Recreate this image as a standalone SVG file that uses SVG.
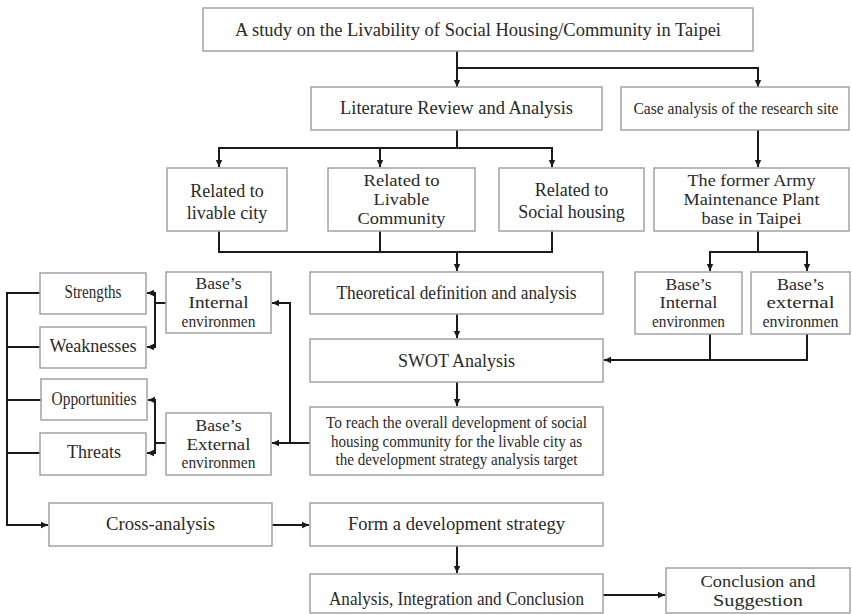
<svg xmlns="http://www.w3.org/2000/svg" width="852" height="614" viewBox="0 0 852 614">
<style>
.box{fill:#fff;stroke:#a3a3a3;stroke-width:1.5}
.t{font-family:"Liberation Serif","Times New Roman",serif;font-size:18px;fill:#2a2a2a;text-anchor:middle}
.t.s{font-size:17px}
.c{fill:none;stroke:#1a1a1a;stroke-width:2}
.a{marker-end:url(#ah)}
</style>
<defs>
<marker id="ah" markerUnits="userSpaceOnUse" markerWidth="8" markerHeight="8" refX="7" refY="4" orient="auto">
<path d="M0,0.8 L7,4 L0,7.2 Z" fill="#1a1a1a"/>
</marker>
</defs>
<rect width="852" height="614" fill="#fff"/>
<g id="connectors">
<path class="c a" d="M457,51 V87"/>
<path class="c a" d="M457,68 H758 V87"/>
<path class="c" d="M457,130 V148"/>
<path class="c a" d="M457,148 H219 V167"/>
<path class="c a" d="M457,148 H552 V167"/>
<path class="c a" d="M380,148 V167"/>
<path class="c a" d="M758,130 V167"/>
<path class="c" d="M219,231 V252 H552 V231"/>
<path class="c" d="M380,231 V252"/>
<path class="c a" d="M457,252 V271"/>
<path class="c" d="M758,231 V252"/>
<path class="c a" d="M758,252 H710 V271"/>
<path class="c a" d="M758,252 H807 V271"/>
<path class="c a" d="M457,314 V338"/>
<path class="c" d="M710,334 V360"/>
<path class="c a" d="M807,334 V360 H604"/>
<path class="c a" d="M457,382 V406"/>
<path class="c a" d="M310,443 H290 V303 H272"/>
<path class="c a" d="M290,443 H272"/>
<path class="c" d="M166,303 H155"/>
<path class="c a" d="M155,303 V293 H147"/>
<path class="c a" d="M155,303 V347 H147"/>
<path class="c" d="M166,443 H155"/>
<path class="c a" d="M155,443 V400 H148"/>
<path class="c a" d="M155,443 V453 H147"/>
<path class="c a" d="M40,293 H7 V525 H48"/>
<path class="c" d="M40,347 H7"/>
<path class="c" d="M41,400 H7"/>
<path class="c" d="M40,453 H7"/>
<path class="c a" d="M272,525 H309"/>
<path class="c a" d="M457,546 V573"/>
<path class="c a" d="M603,595 H665"/>
</g>
<g id="n-top"><rect class="box" x="203" y="8" width="550" height="43"/><text class="t" x="478" y="36" textLength="486" lengthAdjust="spacingAndGlyphs">A study on the Livability of Social Housing/Community in Taipei</text></g>
<g id="n-lit"><rect class="box" x="311" y="87" width="291" height="43"/><text class="t" x="456.5" y="114" textLength="233" lengthAdjust="spacingAndGlyphs">Literature Review and Analysis</text></g>
<g id="n-case"><rect class="box" x="621" y="87" width="228" height="43"/><text class="t" x="736" y="114" style="font-size:16px" textLength="205" lengthAdjust="spacingAndGlyphs">Case analysis of the research site</text></g>
<g id="n-city"><rect class="box" x="167" y="168" width="120" height="63"/><text class="t" x="227" y="197">Related to</text><text class="t" x="227" y="219">livable city</text></g>
<g id="n-comm"><rect class="box" x="328" y="168" width="147" height="63"/><text class="t s" x="401.5" y="186.2" textLength="76" lengthAdjust="spacingAndGlyphs">Related to</text><text class="t s" x="401.5" y="205" textLength="56" lengthAdjust="spacingAndGlyphs">Livable</text><text class="t s" x="401.5" y="223.8" textLength="88" lengthAdjust="spacingAndGlyphs">Community</text></g>
<g id="n-social"><rect class="box" x="499" y="168" width="145" height="63"/><text class="t" x="571.5" y="196">Related to</text><text class="t" x="571.5" y="218">Social housing</text></g>
<g id="n-former"><rect class="box" x="654" y="168" width="195" height="63"/><text class="t s" x="751.5" y="186.2" textLength="128" lengthAdjust="spacingAndGlyphs">The former Army</text><text class="t s" x="751.5" y="205" textLength="136" lengthAdjust="spacingAndGlyphs">Maintenance Plant</text><text class="t s" x="751.5" y="223.8" textLength="100" lengthAdjust="spacingAndGlyphs">base in Taipei</text></g>
<g id="n-strengths"><rect class="box" x="40" y="273" width="106" height="41"/><text class="t" x="93" y="298" textLength="57" lengthAdjust="spacingAndGlyphs">Strengths</text></g>
<g id="n-baseintL"><rect class="box" x="166" y="272" width="105" height="61"/><text class="t s" x="218.5" y="289.2" textLength="46" lengthAdjust="spacingAndGlyphs">Base’s</text><text class="t s" x="218.5" y="308" textLength="60" lengthAdjust="spacingAndGlyphs">Internal</text><text class="t s" x="218.5" y="326.8" textLength="74" lengthAdjust="spacingAndGlyphs">environmen</text></g>
<g id="n-theory"><rect class="box" x="310" y="272" width="293" height="42"/><text class="t" x="456.5" y="299" textLength="240" lengthAdjust="spacingAndGlyphs">Theoretical definition and analysis</text></g>
<g id="n-baseintR"><rect class="box" x="635" y="272" width="107" height="62"/><text class="t s" x="688.5" y="289.5" textLength="46" lengthAdjust="spacingAndGlyphs">Base’s</text><text class="t s" x="688.5" y="308.3" textLength="58" lengthAdjust="spacingAndGlyphs">Internal</text><text class="t s" x="688.5" y="327.1" textLength="73" lengthAdjust="spacingAndGlyphs">environmen</text></g>
<g id="n-baseextR"><rect class="box" x="751" y="272" width="99" height="62"/><text class="t s" x="800.5" y="289.5" textLength="47" lengthAdjust="spacingAndGlyphs">Base’s</text><text class="t s" x="800.5" y="308.3" textLength="68" lengthAdjust="spacingAndGlyphs">external</text><text class="t s" x="800.5" y="327.1" textLength="76" lengthAdjust="spacingAndGlyphs">environmen</text></g>
<g id="n-weak"><rect class="box" x="40" y="327" width="106" height="41"/><text class="t" x="93" y="352" textLength="87" lengthAdjust="spacingAndGlyphs">Weaknesses</text></g>
<g id="n-swot"><rect class="box" x="310" y="339" width="293" height="43"/><text class="t" x="456.5" y="367">SWOT Analysis</text></g>
<g id="n-opp"><rect class="box" x="41" y="379" width="106" height="41"/><text class="t" x="94" y="405" textLength="85" lengthAdjust="spacingAndGlyphs">Opportunities</text></g>
<g id="n-baseextL"><rect class="box" x="166" y="413" width="105" height="62"/><text class="t s" x="218.5" y="430.7" textLength="46" lengthAdjust="spacingAndGlyphs">Base’s</text><text class="t s" x="218.5" y="449.5" textLength="64" lengthAdjust="spacingAndGlyphs">External</text><text class="t s" x="218.5" y="468.3" textLength="74" lengthAdjust="spacingAndGlyphs">environmen</text></g>
<g id="n-target"><rect class="box" x="310" y="407" width="293" height="68"/><text class="t s" x="456.5" y="427.7" textLength="261" lengthAdjust="spacingAndGlyphs">To reach the overall development of social</text><text class="t s" x="456.5" y="446.5" textLength="251" lengthAdjust="spacingAndGlyphs">housing community for the livable city as</text><text class="t s" x="456.5" y="465.3" textLength="242" lengthAdjust="spacingAndGlyphs">the development strategy analysis target</text></g>
<g id="n-threats"><rect class="box" x="40" y="433" width="106" height="42"/><text class="t" x="94" y="458" textLength="54" lengthAdjust="spacingAndGlyphs">Threats</text></g>
<g id="n-cross"><rect class="box" x="49" y="503" width="223" height="43"/><text class="t" x="160.5" y="530" textLength="109" lengthAdjust="spacingAndGlyphs">Cross-analysis</text></g>
<g id="n-form"><rect class="box" x="310" y="503" width="293" height="43"/><text class="t" x="456.5" y="530" textLength="217" lengthAdjust="spacingAndGlyphs">Form a development strategy</text></g>
<g id="n-analysis"><rect class="box" x="310" y="574" width="293" height="39"/><text class="t" x="456.5" y="605" textLength="255" lengthAdjust="spacingAndGlyphs">Analysis, Integration and Conclusion</text></g>
<g id="n-conclusion"><rect class="box" x="666" y="568" width="184" height="45"/><text class="t" x="758" y="587" style="font-size:16.5px" textLength="115" lengthAdjust="spacingAndGlyphs">Conclusion and</text><text class="t" x="758" y="606" style="font-size:16.5px" textLength="90" lengthAdjust="spacingAndGlyphs">Suggestion</text></g>
</svg>
